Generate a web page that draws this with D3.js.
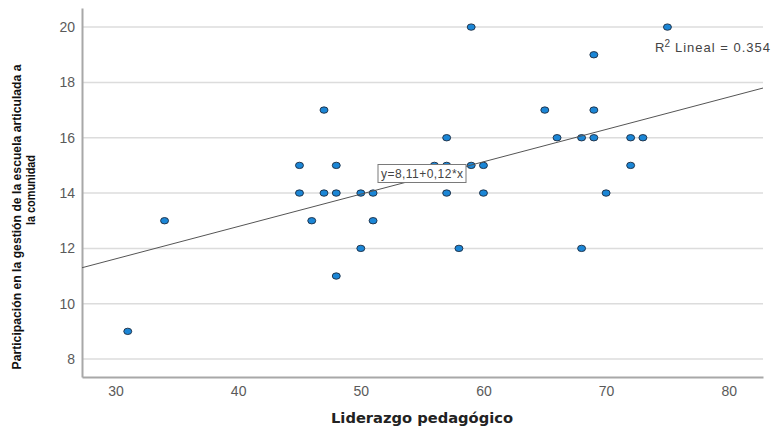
<!DOCTYPE html>
<html>
<head>
<meta charset="utf-8">
<script src="https://cdn.jsdelivr.net/npm/d3@7"></script>
<style>
  body { margin: 0; background: #fff; }
  svg { display: block; font-family: Arial, 'Liberation Sans', sans-serif; }
</style>
</head>
<body>
<div id="chart"></div>
<script>
// Liderazgo pedagógico (x) vs participación (y)
var xValues = [31, 34, 45, 45, 46, 47, 47, 48, 48, 48, 50, 50, 51, 51, 56, 57, 57, 57, 58, 59, 59, 60, 60, 65, 66, 68, 68, 69, 69, 69, 70, 72, 72, 73, 75]
var yValues = [9, 13, 15, 14, 13, 17, 14, 15, 14, 11, 14, 12, 14, 13, 15, 16, 15, 14, 12, 20, 15, 15, 14, 17, 16, 16, 12, 19, 17, 16, 14, 16, 15, 16, 20]

var xTicks = [30, 40, 50, 60, 70, 80]
var yTicks = [8, 10, 12, 14, 16, 18, 20]

// fit line (intercept, slope) and labels
var fitLine = [8.11, 0.117]
var fitLabel = 'y=8,11+0,12*x'
var r2Label = ['R', '2', ' Lineal = 0.354']
var xTitle = 'Liderazgo pedagógico'
var yTitle = ['Participación en la gestión de la escuela articulada a', 'la comunidad']

var width = 774,
  height = 427
var plot = { left: 82, right: 763, top: 8, bottom: 377 }

var svg = d3
  .select('#chart')
  .append('svg')
  .attr('width', width)
  .attr('height', height)

var x = d3.scaleLinear().domain([27.27, 82.79]).range([plot.left, plot.right])
var y = d3.scaleLinear().domain([7.35, 20.69]).range([plot.bottom, plot.top])

// horizontal grid
svg
  .append('g')
  .selectAll('line')
  .data(yTicks)
  .enter()
  .append('line')
  .attr('x1', plot.left)
  .attr('x2', plot.right)
  .attr('y1', function (d) { return y(d) })
  .attr('y2', function (d) { return y(d) })
  .attr('stroke', '#dcdcdc')
  .attr('stroke-width', 1.5)

// axes
var yAxis = svg
  .append('g')
  .attr('transform', 'translate(' + plot.left + ',0)')
  .call(d3.axisLeft(y).tickValues(yTicks).tickSize(0).tickPadding(7))
var xAxis = svg
  .append('g')
  .attr('transform', 'translate(0,' + plot.bottom + ')')
  .call(d3.axisBottom(x).tickValues(xTicks).tickSize(0).tickPadding(9))

;[xAxis, yAxis].forEach(function (a) {
  a.select('.domain').attr('stroke', '#a8a8a8').attr('stroke-width', 2)
  a.selectAll('text')
    .attr('fill', '#5a5a5a')
    .style('font-size', '14px')
    .style('font-family', 'Arial, "Liberation Sans", sans-serif')
})

// points (drawn before the equation box so it covers them)
var pts = d3.zip(xValues, yValues)
svg
  .append('g')
  .selectAll('ellipse')
  .data(pts)
  .enter()
  .append('ellipse')
  .attr('cx', function (d) { return x(d[0]) })
  .attr('cy', function (d) { return y(d[1]) })
  .attr('rx', 4)
  .attr('ry', 3.2)
  .attr('fill', '#1b86d6')
  .attr('stroke', '#1d2b40')
  .attr('stroke-width', 0.9)

// regression line across the full x range
var xd = x.domain()
svg
  .append('line')
  .attr('x1', x(xd[0]))
  .attr('x2', x(xd[1]))
  .attr('y1', y(fitLine[0] + fitLine[1] * xd[0]))
  .attr('y2', y(fitLine[0] + fitLine[1] * xd[1]))
  .attr('stroke', '#555')
  .attr('stroke-width', 1)

// equation label box
var eq = svg.append('g').attr('transform', 'translate(378,164.5)')
eq.append('rect')
  .attr('width', 88)
  .attr('height', 18)
  .attr('fill', '#fff')
  .attr('stroke', '#7a7a7a')
  .attr('stroke-width', 1)
eq.append('text')
  .attr('x', 3)
  .attr('y', 13.5)
  .attr('textLength', 82)
  .attr('lengthAdjust', 'spacing')
  .attr('fill', '#444')
  .style('font-size', '12px')
  .text(fitLabel)

// R2 label
var r2 = svg
  .append('text')
  .attr('x', 655)
  .attr('y', 52)
  .attr('fill', '#444')
  .style('font-size', '13px')
r2.append('tspan').text(r2Label[0])
r2.append('tspan').attr('dy', -5).style('font-size', '10px').text(r2Label[1])
r2.append('tspan')
  .attr('dy', 5)
  .attr('dx', 5)
  .attr('textLength', 95)
  .attr('lengthAdjust', 'spacing')
  .text(r2Label[2].trim())

// axis titles
svg
  .append('text')
  .attr('x', 422)
  .attr('y', 423)
  .attr('text-anchor', 'middle')
  .attr('textLength', 182)
  .attr('lengthAdjust', 'spacingAndGlyphs')
  .attr('fill', '#222')
  .style('font-family', '"DejaVu Sans", Verdana, sans-serif')
  .style('font-size', '13.5px')
  .style('font-weight', 'bold')
  .text(xTitle)

svg
  .append('text')
  .attr('transform', 'translate(21,217) rotate(-90)')
  .attr('text-anchor', 'middle')
  .attr('textLength', 305)
  .attr('lengthAdjust', 'spacingAndGlyphs')
  .attr('fill', '#111')
  .style('font-size', '12.5px')
  .style('font-weight', 'bold')
  .text(yTitle[0])
svg
  .append('text')
  .attr('transform', 'translate(35,190) rotate(-90)')
  .attr('text-anchor', 'middle')
  .attr('textLength', 70)
  .attr('lengthAdjust', 'spacingAndGlyphs')
  .attr('fill', '#111')
  .style('font-size', '12.5px')
  .style('font-weight', 'bold')
  .text(yTitle[1])
</script>
</body>
</html>
